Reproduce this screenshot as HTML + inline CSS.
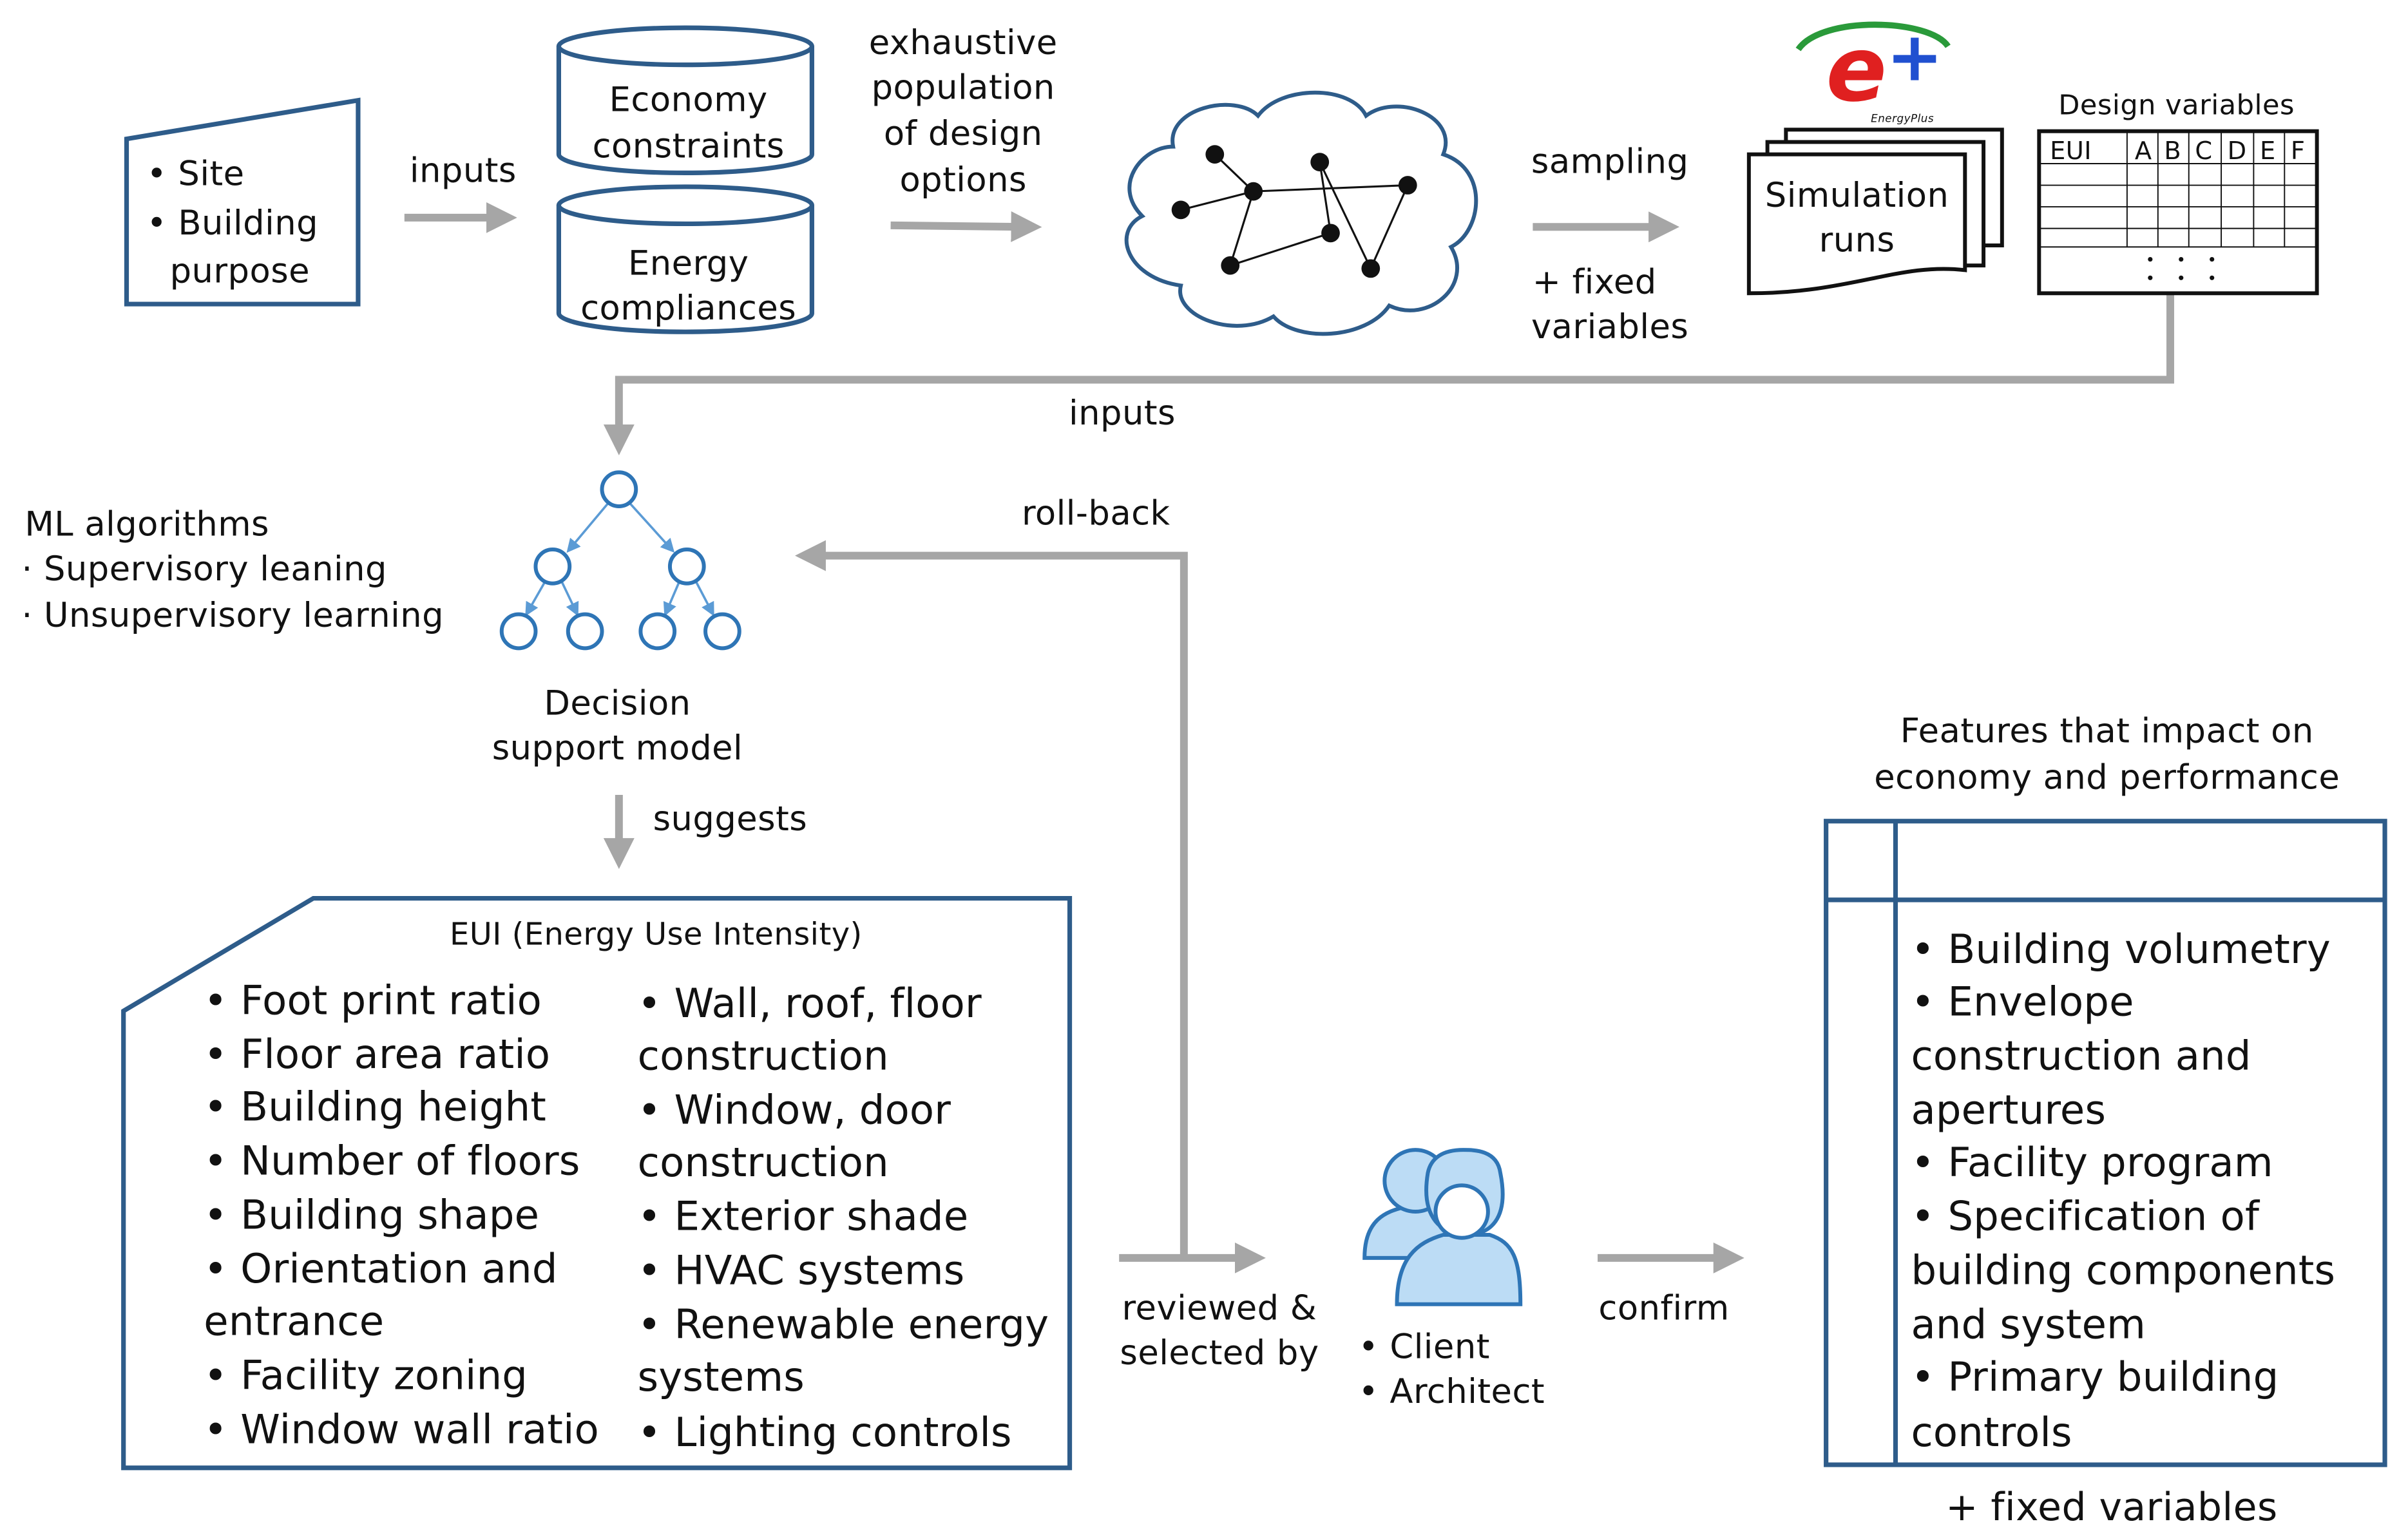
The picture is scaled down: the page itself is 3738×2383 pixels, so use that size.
<!DOCTYPE html>
<html><head><meta charset="utf-8"><style>
html,body{margin:0;padding:0;background:#fff;}
svg{display:block;}
text{font-family:"DejaVu Sans","Liberation Sans",sans-serif;fill:#111;letter-spacing:0.2px;}
.big text{letter-spacing:0.1px;}
</style></head><body>
<svg width="3738" height="2383" viewBox="0 0 1560 994.5" preserveAspectRatio="none" xmlns="http://www.w3.org/2000/svg">
<defs>
<marker id="ga" markerWidth="4" markerHeight="4" refX="2" refY="2" orient="auto" markerUnits="strokeWidth"><path d="M0,0 L4,2 L0,4 z" fill="#a6a6a6"/></marker>
<marker id="ba" markerWidth="6" markerHeight="6" refX="5" refY="3" orient="auto" markerUnits="strokeWidth"><path d="M0,0 L6,3 L0,6 z" fill="#5b9bd5"/></marker>
</defs>
<g fill="none" stroke="#2e5c8a" stroke-width="3">
<polygon points="82,90 232,65 232,197 82,197"/>
</g>
<g font-size="22">
<text x="95" y="120">• Site</text><text x="95" y="152">• Building</text><text x="110" y="183">purpose</text>
</g>
<g font-size="22" text-anchor="middle">
<text x="300" y="118">inputs</text>
<text x="624" y="35">exhaustive</text><text x="624" y="64">population</text><text x="624" y="94">of design</text><text x="624" y="124">options</text>
<text x="1043" y="112">sampling</text><text x="1033" y="190">+ fixed</text><text x="1043" y="219">variables</text>
<text x="727" y="275">inputs</text><text x="710" y="340">roll-back</text>
<text x="400" y="463">Decision</text><text x="400" y="492">support model</text>
<text x="790" y="855">reviewed &amp;</text><text x="790" y="884">selected by</text>
<text x="1078" y="855">confirm</text>
<text x="1365" y="481">Features that impact on</text><text x="1365" y="511">economy and performance</text>
<text x="1368" y="985" font-size="25">+ fixed variables</text>
</g>
<g stroke="#a6a6a6" stroke-width="5" fill="none">
<line x1="262" y1="141" x2="325" y2="141" marker-end="url(#ga)"/>
<line x1="577" y1="146" x2="665" y2="147" marker-end="url(#ga)"/>
<line x1="993" y1="147" x2="1078" y2="147" marker-end="url(#ga)"/>
<polyline points="1406,190 1406,246 401,246 401,285" marker-end="url(#ga)"/>
<polyline points="767,815 767,360 525,360" marker-end="url(#ga)"/>
<line x1="401" y1="515" x2="401" y2="553" marker-end="url(#ga)"/>
<line x1="725" y1="815" x2="810" y2="815" marker-end="url(#ga)"/>
<line x1="1035" y1="815" x2="1120" y2="815" marker-end="url(#ga)"/>
</g>
<g fill="#fff" stroke="#2e5c8a" stroke-width="3">
<path d="M362,30 L362,100 A82,12 0 0 0 526,100 L526,30"/><ellipse cx="444" cy="30" rx="82" ry="12"/>
<path d="M362,133 L362,203 A82,12 0 0 0 526,203 L526,133"/><ellipse cx="444" cy="133" rx="82" ry="12"/>
</g>
<g font-size="22" text-anchor="middle">
<text x="446" y="72">Economy</text><text x="446" y="102">constraints</text>
<text x="446" y="178">Energy</text><text x="446" y="207">compliances</text>
</g>
<path d="M760,95 C755,70 800,60 815,75 C830,55 875,55 885,75 C905,60 945,75 935,100 C965,110 960,150 940,160 C955,185 925,210 900,198 C885,220 840,222 825,205 C800,220 760,205 765,185 C730,180 720,150 740,140 C720,120 740,95 760,95 Z" fill="#fff" stroke="#2e5c8a" stroke-width="2.5"/>
<g stroke="#111" stroke-width="1.3">
<line x1="787" y1="100" x2="812" y2="124"/><line x1="765" y1="136" x2="812" y2="124"/>
<line x1="812" y1="124" x2="912" y2="120"/><line x1="812" y1="124" x2="797" y2="172"/>
<line x1="797" y1="172" x2="862" y2="151"/><line x1="855" y1="105" x2="888" y2="174"/>
<line x1="888" y1="174" x2="912" y2="120"/><line x1="855" y1="105" x2="862" y2="151"/>
</g>
<g fill="#111">
<circle cx="787" cy="100" r="6"/><circle cx="855" cy="105" r="6"/><circle cx="912" cy="120" r="6"/><circle cx="765" cy="136" r="6"/><circle cx="812" cy="124" r="6"/><circle cx="862" cy="151" r="6"/><circle cx="797" cy="172" r="6"/><circle cx="888" cy="174" r="6"/>
</g>
<g fill="#fff" stroke="#111" stroke-width="2.5">
<rect x="1157" y="84" width="140" height="75"/>
<rect x="1145" y="92" width="140" height="80"/>
<path d="M1133,100 L1273,100 L1273,175 C1230,170 1200,190 1133,190 Z"/>
</g>
<text x="1203" y="134" font-size="22" text-anchor="middle">Simulation</text><text x="1203" y="163" font-size="22" text-anchor="middle">runs</text>
<path d="M1165,32 C1180,10 1250,12 1262,30" fill="none" stroke="#2a9a3a" stroke-width="4"/>
<text x="1183" y="65" font-size="58" font-weight="bold" font-style="italic" style="fill:#e02020">e</text>
<text x="1222" y="52" font-size="44" font-weight="bold" style="fill:#2050d0">+</text>
<text x="1212" y="79" font-size="7" font-style="italic">EnergyPlus</text>
<text x="1410" y="74" font-size="18" text-anchor="middle">Design variables</text>
<rect x="1321" y="85" width="180" height="105" fill="#fff" stroke="#111" stroke-width="2.5"/>
<g stroke="#111" stroke-width="0.8">
<line x1="1321" y1="106" x2="1501" y2="106"/><line x1="1321" y1="120" x2="1501" y2="120"/><line x1="1321" y1="134" x2="1501" y2="134"/><line x1="1321" y1="148" x2="1501" y2="148"/><line x1="1321" y1="160" x2="1501" y2="160"/>
<line x1="1378" y1="85" x2="1378" y2="160"/><line x1="1398" y1="85" x2="1398" y2="160"/><line x1="1418" y1="85" x2="1418" y2="160"/><line x1="1439" y1="85" x2="1439" y2="160"/><line x1="1460" y1="85" x2="1460" y2="160"/><line x1="1480" y1="85" x2="1480" y2="160"/>
</g>
<g font-size="16"><text x="1328" y="103">EUI</text><text x="1383" y="103">A</text><text x="1402" y="103">B</text><text x="1422" y="103">C</text><text x="1443" y="103">D</text><text x="1464" y="103">E</text><text x="1484" y="103">F</text></g>
<g fill="#111"><circle cx="1393" cy="168" r="1.5"/><circle cx="1413" cy="168" r="1.5"/><circle cx="1433" cy="168" r="1.5"/><circle cx="1393" cy="180" r="1.5"/><circle cx="1413" cy="180" r="1.5"/><circle cx="1433" cy="180" r="1.5"/></g>
<g stroke="#5b9bd5" stroke-width="1.5">
<line x1="394" y1="326" x2="368" y2="357" marker-end="url(#ba)"/><line x1="408" y1="326" x2="436" y2="357" marker-end="url(#ba)"/>
<line x1="353" y1="377" x2="341" y2="398" marker-end="url(#ba)"/><line x1="364" y1="377" x2="374" y2="398" marker-end="url(#ba)"/>
<line x1="440" y1="377" x2="431" y2="398" marker-end="url(#ba)"/><line x1="451" y1="377" x2="462" y2="398" marker-end="url(#ba)"/>
</g>
<g fill="#fff" stroke="#2e75b6" stroke-width="2.5">
<circle cx="401" cy="317" r="11"/><circle cx="358" cy="367" r="11"/><circle cx="445" cy="367" r="11"/>
<circle cx="336" cy="409" r="11"/><circle cx="379" cy="409" r="11"/><circle cx="426" cy="409" r="11"/><circle cx="468" cy="409" r="11"/>
</g>
<g font-size="22"><text x="16" y="347">ML algorithms</text><text x="14" y="376">·  Supervisory leaning</text><text x="14" y="406">·  Unsupervisory learning</text></g>
<text x="423" y="538" font-size="22">suggests</text>
<polygon points="80,655 203,582 693,582 693,951 80,951" fill="#fff" stroke="#2e5c8a" stroke-width="3"/>
<text x="425" y="612" font-size="20" text-anchor="middle">EUI (Energy Use Intensity)</text>
<g font-size="26" class="big">
<text x="132" y="657">• Foot print ratio</text><text x="132" y="692">• Floor area ratio</text><text x="132" y="726">• Building height</text><text x="132" y="761">• Number of floors</text><text x="132" y="796">• Building shape</text><text x="132" y="831">• Orientation and</text><text x="132" y="865">entrance</text><text x="132" y="900">• Facility zoning</text><text x="132" y="935">• Window wall ratio</text>
<text x="413" y="659">• Wall, roof, floor</text><text x="413" y="693">construction</text><text x="413" y="728">• Window, door</text><text x="413" y="762">construction</text><text x="413" y="797">• Exterior shade</text><text x="413" y="832">• HVAC systems</text><text x="413" y="867">• Renewable energy</text><text x="413" y="901">systems</text><text x="413" y="937">• Lighting controls</text>
</g>
<g fill="#bcdcf5" stroke="#2e75b6" stroke-width="2.5">
<path d="M884,815 C884,790 898,785 910,782 L935,782 C948,785 955,795 955,815 Z"/>
<circle cx="917" cy="765" r="20"/>
<path d="M905,845 C905,815 918,805 935,800 L965,800 C980,805 985,815 985,845 Z"/>
<path d="M925,760 C920,790 935,800 950,800 C965,800 978,790 972,760 C970,745 955,745 948,745 C935,745 927,750 925,760 Z"/>
<circle cx="947" cy="785" r="17" fill="#fff"/>
</g>
<g font-size="22"><text x="880" y="880">• Client</text><text x="880" y="909">• Architect</text></g>
<rect x="1183" y="532" width="362" height="417" fill="#fff" stroke="#2e5c8a" stroke-width="3"/>
<line x1="1183" y1="583" x2="1545" y2="583" stroke="#2e5c8a" stroke-width="3"/>
<line x1="1228" y1="532" x2="1228" y2="949" stroke="#2e5c8a" stroke-width="3"/>
<g font-size="26" class="big">
<text x="1238" y="624">• Building volumetry</text><text x="1238" y="658">• Envelope</text><text x="1238" y="693">construction and</text><text x="1238" y="728">apertures</text><text x="1238" y="762">• Facility program</text><text x="1238" y="797">• Specification of</text><text x="1238" y="832">building components</text><text x="1238" y="867">and system</text><text x="1238" y="901">• Primary building</text><text x="1238" y="937">controls</text>
</g>
</svg>
</body></html>
